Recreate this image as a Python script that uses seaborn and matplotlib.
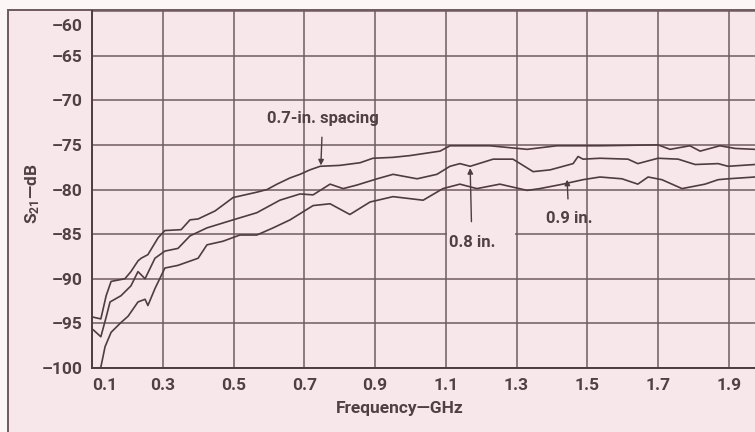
import matplotlib
matplotlib.use("Agg")
import matplotlib.pyplot as plt
import matplotlib.transforms as mtransforms
import seaborn as sns
import pandas as pd
from matplotlib.patches import Rectangle

# ---------------- data ----------------
freq_07 = [0.103, 0.125, 0.140, 0.154, 0.193, 0.210, 0.230, 0.239, 0.258, 0.287,
           0.306, 0.352, 0.377, 0.400, 0.448, 0.499, 0.566, 0.595, 0.623, 0.660,
           0.688, 0.716, 0.745, 0.800, 0.858, 0.894, 0.950, 0.999, 1.050, 1.084,
           1.112, 1.225, 1.330, 1.414, 1.536, 1.700, 1.734, 1.790, 1.819, 1.875,
           1.918, 1.974]
s21_07 = [-94.3, -94.5, -91.9, -90.3, -90.0, -89.2, -88.0, -87.7, -87.3, -85.4,
          -84.6, -84.5, -83.4, -83.3, -82.4, -80.9, -80.3, -80.0, -79.4, -78.7,
          -78.3, -77.8, -77.4, -77.3, -77.0, -76.5, -76.4, -76.2, -75.9, -75.7,
          -75.1, -75.1, -75.5, -75.1, -75.1, -75.0, -75.5, -75.1, -75.7, -75.1,
          -75.4, -75.5]

freq_08 = [0.103, 0.125, 0.140, 0.151, 0.182, 0.210, 0.230, 0.250, 0.278, 0.306,
           0.343, 0.377, 0.425, 0.499, 0.566, 0.631, 0.688, 0.725, 0.773, 0.810,
           0.849, 0.906, 0.951, 1.019, 1.075, 1.112, 1.140, 1.169, 1.234, 1.290,
           1.347, 1.395, 1.460, 1.474, 1.488, 1.536, 1.615, 1.643, 1.700, 1.757,
           1.805, 1.870, 1.898, 1.974]
s21_08 = [-95.7, -96.5, -94.3, -92.6, -91.9, -90.8, -89.2, -90.0, -87.7, -86.9,
          -86.6, -85.2, -84.3, -83.4, -82.6, -81.2, -80.5, -80.6, -79.4, -79.9,
          -79.5, -78.8, -78.3, -78.8, -78.3, -77.4, -77.1, -77.4, -76.6, -76.6,
          -78.0, -77.8, -77.1, -76.3, -76.6, -76.5, -76.6, -77.1, -76.5, -76.6,
          -77.2, -77.1, -77.4, -77.2]

freq_09 = [0.103, 0.125, 0.137, 0.154, 0.182, 0.202, 0.230, 0.250, 0.258, 0.278,
           0.306, 0.343, 0.400, 0.425, 0.470, 0.518, 0.566, 0.612, 0.660, 0.725,
           0.773, 0.829, 0.886, 0.951, 1.036, 1.092, 1.140, 1.188, 1.253, 1.330,
           1.366, 1.431, 1.488, 1.536, 1.598, 1.643, 1.672, 1.711, 1.768, 1.833,
           1.870, 1.898, 1.974]
s21_09 = [-100.6, -99.9, -97.6, -96.0, -94.9, -94.2, -92.6, -92.3, -93.0, -91.1,
          -88.8, -88.5, -87.7, -86.2, -85.8, -85.1, -85.1, -84.3, -83.4, -81.8,
          -81.6, -82.8, -81.4, -80.8, -81.2, -79.9, -79.4, -79.9, -79.4, -80.1,
          -79.9, -79.4, -78.9, -78.6, -78.8, -79.4, -78.6, -78.9, -79.9, -79.4,
          -78.9, -78.8, -78.6]

x_ticks = [0.1, 0.3, 0.5, 0.7, 0.9, 1.1, 1.3, 1.5, 1.7, 1.9]
x_tick_labels = ["0.1", "0.3", "0.5", "0.7", "0.9", "1.1", "1.3", "1.5", "1.7", "1.9"]
y_ticks = [-60, -65, -70, -75, -80, -85, -90, -95, -100]
y_tick_labels = ["\u201360", "\u201365", "\u201370", "\u201375", "\u201380",
                 "\u201385", "\u201390", "\u201395", "\u2013100"]

# ---------------- style ----------------
sns.set_style("white")
FONTS = ["Roboto", "DejaVu Sans"]
plt.rcParams["font.family"] = FONTS
plt.rcParams["mathtext.fontset"] = "custom"
plt.rcParams["mathtext.rm"] = "Roboto"
plt.rcParams["mathtext.it"] = "Roboto"
plt.rcParams["mathtext.bf"] = "Roboto:bold"

BG = "#f8e7ea"
LINE = "#4e3c40"
GRID = "#6f5c60"
TXT = "#4f4043"

W, H = 755, 432
fig = plt.figure(figsize=(W / 100, H / 100), dpi=100)
fig.patch.set_facecolor("#fcf6f6")

# outer frame of the scanned figure
fig.patches.append(Rectangle((8 / W, -0.05), 1.1, 1 - 10 / H + 0.05,
                             transform=fig.transFigure, facecolor=BG,
                             edgecolor="#6d5a5d", linewidth=1.4, zorder=-10))

ax_l, ax_r, ax_t, ax_b = 92, 755, 11, 368
ax = fig.add_axes([ax_l / W, 1 - ax_b / H, (ax_r - ax_l) / W, (ax_b - ax_t) / H])
ax.set_facecolor(BG)

frames = []
for name, f, s in (("0.7", freq_07, s21_07), ("0.8", freq_08, s21_08), ("0.9", freq_09, s21_09)):
    frames.append(pd.DataFrame({"freq": f, "s21": s, "spacing": name}))
df = pd.concat(frames, ignore_index=True)

sns.lineplot(data=df, x="freq", y="s21", hue="spacing", units="spacing",
             estimator=None, palette=[LINE, LINE, LINE], linewidth=1.2,
             legend=False, ax=ax, zorder=3)

x_max = 0.1 + (ax_r - 92) / 353.75
ax.set_xlim(0.1, x_max)
ax.set_ylim(-100, -60)
ax.set_xticks(x_ticks)
ax.set_xticklabels(x_tick_labels)
ax.set_yticks(y_ticks)
# the top label (-60) is drawn slightly lower, inside the frame, as in the scan
ax.set_yticklabels([""] + y_tick_labels[1:])
ax.tick_params(length=0, labelsize=12.5, labelcolor=TXT, pad=7)
ax.tick_params(axis="y", pad=7)
for lbl in ax.get_xticklabels() + ax.get_yticklabels():
    lbl.set_fontweight("bold")
ax.get_xticklabels()[0].set_horizontalalignment("left")
top_tr = ax.get_yaxis_transform() + mtransforms.ScaledTranslation(-7 / 72, -11 / 72, fig.dpi_scale_trans)
ax.text(0, y_ticks[0], y_tick_labels[0], transform=top_tr, ha="right", va="center",
        fontsize=12.5, fontweight="bold", color=TXT)

ax.grid(True, color=GRID, linewidth=1.1)
ax.set_axisbelow(True)
for side in ("left", "bottom"):
    ax.spines[side].set_visible(True)
    ax.spines[side].set_color(LINE)
    ax.spines[side].set_linewidth(1.4)
ax.spines["right"].set_visible(False)
ax.spines["top"].set_visible(False)

ax.set_xlabel("")
ax.set_ylabel("")
fig.text(336 / W, 1 - 408 / H, "Frequency\u2014GHz", ha="left", va="center",
         fontsize=12.5, fontweight="bold", color=TXT)
fig.text(33 / W, 1 - 194 / H, r"$\mathbf{S}_{\mathbf{21}}$" + "\u2014dB", rotation=90,
         ha="center", va="center", fontsize=12.5, fontweight="bold", color=TXT)

# gap in the -85 gridline behind the "0.8 in." label
ax.add_patch(Rectangle((1.104, -85.35), 0.192, 0.7, facecolor=BG,
                       edgecolor="none", zorder=1))

# annotations
ax.annotate("0.7-in. spacing", xy=(0.747, -77.3), xytext=(0.752, -72.0),
            ha="center", va="center", fontsize=12, fontweight="bold", color=TXT,
            arrowprops=dict(arrowstyle="-|>", color=LINE, lw=1.0,
                            mutation_scale=8, shrinkA=6, shrinkB=0),
            zorder=5)
ax.annotate("0.8 in.", xy=(1.169, -77.6), xytext=(1.174, -85.9),
            ha="center", va="center", fontsize=12, fontweight="bold", color=TXT,
            arrowprops=dict(arrowstyle="-|>", color=LINE, lw=1.0,
                            mutation_scale=8, shrinkA=7, shrinkB=0),
            zorder=5)
ax.annotate("0.9 in.", xy=(1.443, -78.9), xytext=(1.448, -83.2),
            ha="center", va="center", fontsize=12, fontweight="bold", color=TXT,
            arrowprops=dict(arrowstyle="-|>", color=LINE, lw=1.0,
                            mutation_scale=8, shrinkA=6, shrinkB=0),
            zorder=5)

fig.savefig("out.png", dpi=100, facecolor=fig.get_facecolor())
